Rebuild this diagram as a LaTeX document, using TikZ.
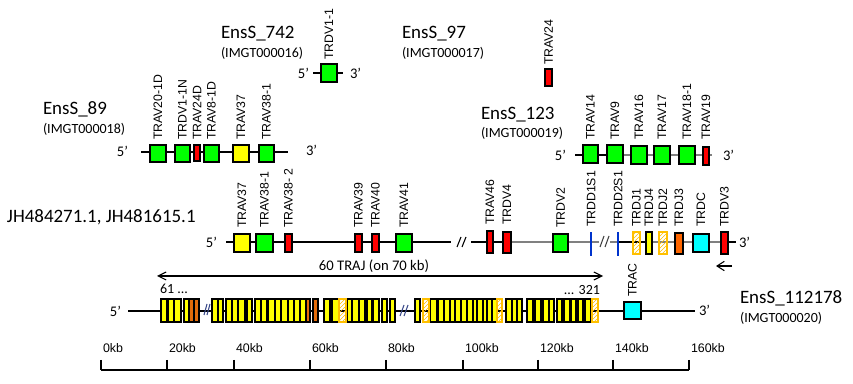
\documentclass[tikz,border=0pt]{standalone}
\usepackage{fontspec}
\usepackage{graphicx}
\setmainfont{Carlito}
\newfontfamily\lblfont{Liberation Sans}
\usetikzlibrary{arrows.meta,patterns}
\definecolor{ggreen}{HTML}{00FF00}
\definecolor{gred}{HTML}{FF0000}
\definecolor{gyellow}{HTML}{FFFF00}
\definecolor{gcyan}{HTML}{00FFFF}
\definecolor{gorange}{HTML}{FF6600}
\definecolor{jorange}{HTML}{E46C0A}
\definecolor{hatchc}{HTML}{FFC000}
\definecolor{gblue}{HTML}{0033CC}
\definecolor{lgray}{HTML}{808080}
\definecolor{brkc}{HTML}{3A4A8A}
\tikzset{
  every node/.style={inner sep=0pt, outer sep=0pt},
  bb/.style={draw=black, line width=0.8pt},
  bbg/.style={draw=lgray, line width=1.3pt},
  gene/.style={draw=black, line width=0.9pt},
  gg/.style={gene, fill=ggreen},
  gr/.style={gene, fill=gred},
  gy/.style={gene, fill=gyellow},
  gc/.style={gene, fill=gcyan},
  go/.style={gene, fill=gorange},
  jo/.style={gene, fill=jorange},
  gh/.style={draw=hatchc, line width=0.9pt, pattern=north east lines, pattern color=hatchc},
  gb/.style={fill=gblue},
  lbl/.style={font=\lblfont\fontsize{9.2}{11}\selectfont, anchor=south},
  title/.style={font=\fontsize{14.2}{16}\selectfont, anchor=base west},
  sub/.style={font=\fontsize{10.5}{12}\selectfont, anchor=base west},
  endl/.style={font=\fontsize{11}{13}\selectfont},
  brk/.style={line width=0.8pt},
  scl/.style={font=\lblfont\fontsize{9.3}{11}\selectfont, anchor=base west},
  barb/.style={line width=0.8pt},
}
% name, x1, y1, x2, y2, style, label, label bottom y
\newcommand\gn[8]{%
  \node[#6, minimum width={(#4-#2)*0.75pt}, minimum height={(#5-#3)*0.75pt}] (#1) at ({(#2+#4)/2},{(#3+#5)/2}) {};
  \node[lbl] (#1l) at ({(#2+#4)/2},#8) {\rotatebox{90}{#7}};}
\newcommand\jb[5]{% name, x1, x2, style
  \node[#4, minimum width={(#3-#2)*0.75pt}, minimum height={23*0.75pt}] (#1) at ({(#2+#3)/2},310.5) {};}
\begin{document}
\begin{tikzpicture}[x=0.75pt, y=-0.75pt]
\useasboundingbox (0,0) rectangle (853,384);

% ---------- titles ----------
\node[title] (t89) at (43,115) {EnsS\_89};
\node[sub] (i89) at (43,134) {(IMGT000018)};
\node[title] (t742) at (221,39) {EnsS\_742};
\node[sub] (i742) at (221,58) {(IMGT000016)};
\node[title] (t97) at (402,39) {EnsS\_97};
\node[sub] (i97) at (402,58) {(IMGT000017)};
\node[title] (t123) at (481,120) {EnsS\_123};
\node[sub] (i123) at (481,138) {(IMGT000019)};
\node[title] (tjh) at (7,223) {JH484271.1, JH481615.1};
\node[title] (t112) at (740,304) {EnsS\_112178};
\node[sub] (i112) at (740,323) {(IMGT000020)};

% ---------- EnsS_89 row ----------
\coordinate (r1a) at (141,152); \coordinate (r1b) at (288,152);
\draw[bb] (r1a) -- (r1b);
\node[endl, anchor=east] (r1five) at (128,151) {5’};
\node[endl, anchor=west] (r1three) at (306,150) {3’};
\gn{a1}{150}{145}{166}{162}{gg}{TRAV20-1D}{140}
\gn{a2}{175}{145}{190}{162}{gg}{TRDV1-1N}{140}
\gn{a3}{194}{145}{200}{161}{gr}{TRAV24D}{140}
\gn{a4}{204}{145}{219}{162}{gg}{TRAV8-1D}{140}
\gn{a5}{233}{145}{249}{162}{gy}{TRAV37}{140}
\gn{a6}{259}{145}{274}{162}{gg}{TRAV38-1}{140}

% ---------- EnsS_742 ----------
\coordinate (r2a) at (313,73); \coordinate (r2b) at (343,73);
\draw[bb] (r2a) -- (r2b);
\node[endl, anchor=east] (r2five) at (309,73) {5’};
\node[endl, anchor=west] (r2three) at (350,73) {3’};
\gn{b1}{321}{64}{337}{82}{gg}{TRDV1-1}{60}

% ---------- EnsS_97 ----------
\gn{c1}{545}{69}{552}{86}{gr}{TRAV24}{65}

% ---------- EnsS_123 row ----------
\coordinate (r3a) at (575,155); \coordinate (r3m) at (607,155); \coordinate (r3b) at (712,155);
\draw[bb] (r3a) -- (r3m);
\draw[bbg] (r3m) -- (r3b);
\node[endl, anchor=east] (r3five) at (566,155) {5’};
\node[endl, anchor=west] (r3three) at (723,155) {3’};
\gn{d1}{583}{145}{598}{163}{gg}{TRAV14}{140}
\gn{d2}{607}{145}{623}{163}{gg}{TRAV9}{140}
\gn{d3}{631}{146}{647}{164}{gg}{TRAV16}{140}
\gn{d4}{654}{146}{670}{164}{gg}{TRAV17}{140}
\gn{d5}{679}{146}{695}{164}{gg}{TRAV18-1}{140}
\gn{d6}{703}{147}{709}{165}{gr}{TRAV19}{140}

% ---------- main row ----------
\coordinate (m1) at (226,242); \coordinate (m2) at (451,242);
\coordinate (m3) at (471,242); \coordinate (m4) at (511,242);
\coordinate (m5) at (599,242); \coordinate (m6) at (610,242);
\coordinate (m7) at (618,242); \coordinate (m8) at (652,242);
\coordinate (m9) at (721,242); \coordinate (m10) at (736,242);
\draw[bb] (m1) -- (m2);
\draw[bb] (m3) -- (m4);
\draw[bbg] (m4) -- (m5);
\draw[bbg] (m6) -- (m7);
\draw[bb] (m7) -- (m8);
\draw[bbg] (m8) -- (m9);
\draw[bb] (m9) -- (m10);
\draw[brk] (457,247) -- (461,237) (462,247) -- (466,237);
\draw[brk, draw=darkgray] (600,247) -- (604,236) (605,247) -- (609,236);
\node[endl, anchor=east] (mfive) at (217,242) {5’};
\node[endl, anchor=west] (mthree) at (739,242) {3’};
\gn{e1}{234}{234}{250}{252}{gy}{TRAV37}{228}
\gn{e2}{256}{234}{273}{252}{gg}{TRAV38-1}{228}
\gn{e3}{285}{234}{292}{252}{gr}{TRAV38- 2}{228}
\gn{e4}{355}{234}{362}{252}{gr}{TRAV39}{228}
\gn{e5}{372}{234}{379}{252}{gr}{TRAV40}{228}
\gn{e6}{396}{234}{412}{252}{gg}{TRAV41}{228}
\gn{e7}{487}{231}{493}{253}{gr}{TRAV46}{225}
\gn{e8}{503}{232}{511}{253}{gr}{TRDV4}{225}
\gn{e9}{553}{234}{568}{252}{gg}{TRDV2}{228}
\gn{e10}{589.8}{232}{592.3}{256}{gb}{TRDD1S1}{227}
\gn{e11}{616.8}{232}{619.3}{256}{gb}{TRDD2S1}{227}
\gn{e12}{633}{232}{640}{254}{gh}{TRDJ1}{227}
\gn{e13}{646}{232}{652}{254}{gy}{TRDJ4}{227}
\gn{e14}{659}{232}{667}{254}{gh}{TRDJ2}{227}
\gn{e15}{675}{233}{683}{254}{go}{TRDJ3}{227}
\gn{e16}{693}{234}{709}{252}{gc}{TRDC}{227}
\gn{e17}{721}{232}{728}{254}{gr}{TRDV3}{227}
\coordinate (ar1) at (732,266); \coordinate (ar2) at (716,266);
\draw[barb, -{Straight Barb[length=5.5pt,width=7pt]}] (ar1) -- (ar2);

% ---------- TRAJ arrow ----------
\coordinate (tjL) at (157,276); \coordinate (tjR) at (603,276);
\draw[barb, {Straight Barb[length=6pt,width=6pt]}-{Straight Barb[length=6pt,width=6pt]}] (tjL) -- (tjR);
\node[font=\fontsize{11}{13}\selectfont] (tjt) at (374,266) {60 TRAJ (on 70 kb)};
\node[font=\fontsize{10.5}{12}\selectfont, anchor=base west] (j61) at (160,294) {61 ...};
\node[font=\fontsize{10.5}{12}\selectfont, anchor=base east] (j321) at (600,295) {... 321};

% ---------- TRAJ / TRAC row ----------
\coordinate (ja) at (128,311); \coordinate (jz) at (695,311);
\draw[bb] (ja) -- (jz);
\node[endl, anchor=east] (jfive) at (121,311) {5’};
\node[endl, anchor=west] (jthree) at (699,310) {3’};
\foreach \a/\b [count=\i] in {161/167,168/174,174/181,184/189,212/218,218/223,226/232,232/238,238/245,247/252,255/261,261/267,268/275,275/281,281/288,288/294,294/300,300/306,324/330,332/339,347/352,352/359,359/365,367/372,373/379,382/387,390/395,415/420,430/437,438/444,444/450,450/455,455/461,461/467,467/473,473/477,477/483,483/487,487/492,492/497,506/512,512/517,517/522,527/533,535/541,543/549,549/554,557/562,564/570,571/576,578/583,585/591}
  {\jb{jy\i}{\a}{\b}{gy}{}}
\foreach \a/\b [count=\i] in {189/194,194/199,306/310,313/318}
  {\jb{jo\i}{\a}{\b}{jo}{}}
\foreach \a/\b [count=\i] in {339/346,423/429,497/502,592/598}
  {\jb{jh\i}{\a}{\b}{gh}{}}
\draw[brk, draw=brkc] (204,315) -- (207,304) (207,315) -- (210,304);
\draw[brk, draw=brkc] (400,316) -- (404,305) (404,316) -- (408,305);
\gn{trac}{624}{302}{641}{319}{gc}{TRAC}{297}

% ---------- scale ----------
\coordinate (s0) at (101,370); \coordinate (s1) at (689,370);
\draw[bb] (s0) -- (s1);
\foreach \x/\t in {101/0kb,167/20kb,234/40kb,310/60kb,386/80kb,463/100kb,538/120kb,613/140kb,689/160kb}
  {\draw[bb] (\x,360) -- (\x,370);
   \node[scl] (sc\t) at (\x+2,353) {\t};}
\end{tikzpicture}
\end{document}
